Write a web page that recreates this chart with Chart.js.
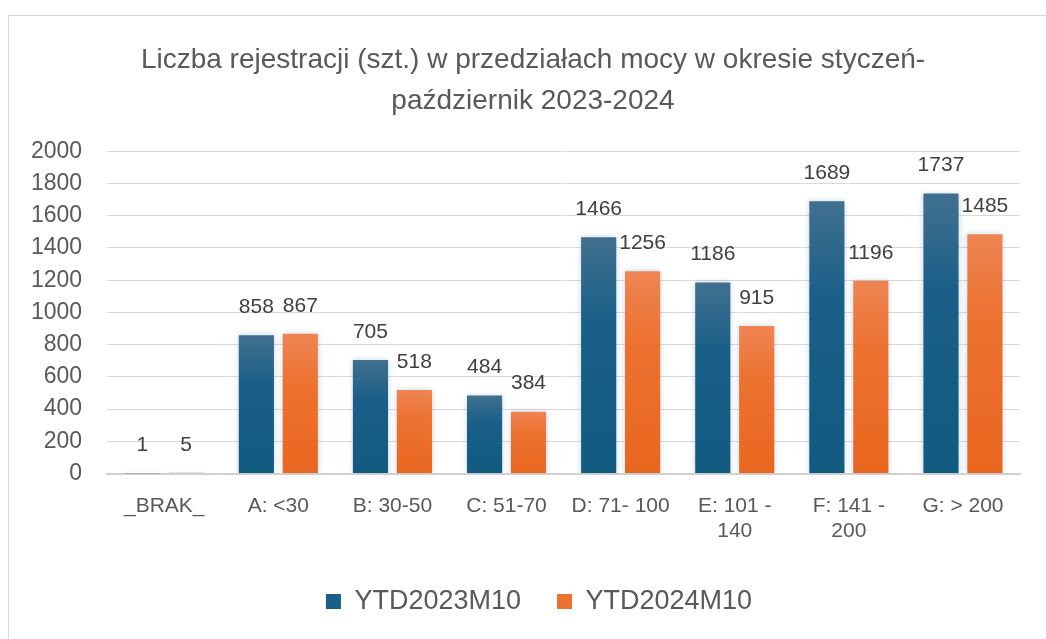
<!DOCTYPE html>
<html>
<head>
<meta charset="utf-8">
<script src="https://cdn.jsdelivr.net/npm/chart.js@4.4.1/dist/chart.umd.min.js"></script>
<style>
  html, body { margin: 0; padding: 0; background: #fff; }
  #wrap { position: relative; width: 1046px; height: 639px; overflow: hidden; }
  #card { position: absolute; left: 8px; top: 15px; width: 1100px; height: 700px;
          border: 1px solid #d9d9d9; box-sizing: border-box; }
  #chart { position: absolute; left: 0; top: 0; }
</style>
</head>
<body>
<div id="wrap">
  <div id="card"></div>
  <canvas id="chart" width="1046" height="639"></canvas>
</div>
<script>
// dane z wykresu
const categories = ["_BRAK_", "A: <30", "B: 30-50", "C: 51-70", "D: 71- 100",
  ["E: 101 -", "140"], ["F: 141 -", "200"], "G: > 200"];
const ytd2023 = [1, 858, 705, 484, 1466, 1186, 1689, 1737];
const ytd2024 = [5, 867, 518, 384, 1256, 915, 1196, 1485];
const yTicks = { min: 0, max: 2000, step: 200 };

const FONT = "'Liberation Sans', Arial, sans-serif";

// gradient per bar (jasniejszy u gory)
function barGradient(topColor, bottomColor, solid) {
  return function (context) {
    const chart = context.chart;
    const yScale = chart.scales && chart.scales.y;
    if (!chart.chartArea || !yScale || context.raw === undefined) return solid;
    const top = yScale.getPixelForValue(context.raw);
    const bottom = yScale.getPixelForValue(0);
    if (!isFinite(top) || bottom - top < 1) return solid;
    const g = chart.ctx.createLinearGradient(0, top, 0, bottom);
    g.addColorStop(0, topColor);
    g.addColorStop(0.35, solid);
    g.addColorStop(1, bottomColor);
    return g;
  };
}

// etykiety wartosci nad slupkami
const valueLabels = {
  id: "valueLabels",
  afterDatasetsDraw(chart) {
    const ctx = chart.ctx;
    ctx.save();
    ctx.font = "21px " + FONT;
    ctx.fillStyle = "#404040";
    ctx.textAlign = "center";
    ctx.textBaseline = "middle";
    chart.data.datasets.forEach(function (ds, i) {
      const meta = chart.getDatasetMeta(i);
      meta.data.forEach(function (bar, j) {
        ctx.fillText(String(ds.data[j]), bar.x, bar.y - 28);
      });
    });
    ctx.restore();
  }
};

// lekka poswiata wokol slupkow
const barGlow = {
  id: "barGlow",
  beforeDatasetsDraw(chart) {
    chart.ctx.save();
    chart.ctx.shadowColor = "rgba(90, 130, 170, 0.35)";
    chart.ctx.shadowBlur = 6;
  },
  afterDatasetsDraw(chart) {
    chart.ctx.restore();
  }
};

// tytul i legenda wysrodkowane na karcie, a nie na canvasie
const centerBoxes = {
  id: "centerBoxes",
  afterLayout(chart) {
    if (chart.titleBlock) {
      chart.titleBlock.left += 20;
      chart.titleBlock.right += 20;
    }
    if (chart.legend) {
      chart.legend.left += 26;
      chart.legend.right += 26;
    }
  }
};

new Chart(document.getElementById("chart"), {
  type: "bar",
  data: {
    labels: categories,
    datasets: [
      {
        label: "YTD2023M10",
        data: ytd2023,
        backgroundColor: barGradient("#41708f", "#115a80", "#1a5f87"),
        borderWidth: 0,
        barPercentage: 0.8,
        categoryPercentage: 0.77
      },
      {
        label: "YTD2024M10",
        data: ytd2024,
        backgroundColor: barGradient("#ef8453", "#e9661f", "#ec7230"),
        borderWidth: 0,
        barPercentage: 0.8,
        categoryPercentage: 0.77
      }
    ]
  },
  options: {
    responsive: false,
    animation: false,
    layout: { padding: { left: 6, right: 26, top: 0, bottom: 14 } },
    plugins: {
      title: {
        display: true,
        text: ["Liczba rejestracji (szt.) w przedziałach mocy w okresie styczeń-",
               "październik 2023-2024"],
        color: "#595959",
        font: { family: FONT, size: 28, weight: "normal", lineHeight: 1.45 },
        padding: { top: 40, bottom: 30 }
      },
      legend: {
        position: "bottom",
        labels: {
          color: "#595959",
          font: { family: FONT, size: 27 },
          boxWidth: 15,
          boxHeight: 15,
          padding: 36,
          generateLabels: function (chart) {
            const solid = ["#1a5f87", "#ec7230"];
            return chart.data.datasets.map(function (ds, i) {
              return {
                text: ds.label,
                fillStyle: solid[i],
                strokeStyle: solid[i],
                lineWidth: 0,
                fontColor: "#595959",
                datasetIndex: i
              };
            });
          }
        }
      },
      tooltip: { enabled: false }
    },
    scales: {
      x: {
        grid: { display: false },
        border: { color: "#d0d0d0", width: 2 },
        ticks: {
          color: "#595959",
          font: { family: FONT, size: 21 },
          padding: 12,
          maxRotation: 0,
          autoSkip: false
        },
        afterFit: function (scale) {
          scale.height -= 4;
        }
      },
      y: {
        min: yTicks.min,
        max: yTicks.max,
        grid: { color: "#d9d9d9", drawTicks: false },
        border: { display: false },
        ticks: {
          stepSize: yTicks.step,
          color: "#595959",
          font: { family: FONT, size: 23 },
          padding: 25,
          callback: function (value) { return String(value); }
        }
      }
    }
  },
  plugins: [barGlow, valueLabels, centerBoxes]
});
</script>
</body>
</html>
